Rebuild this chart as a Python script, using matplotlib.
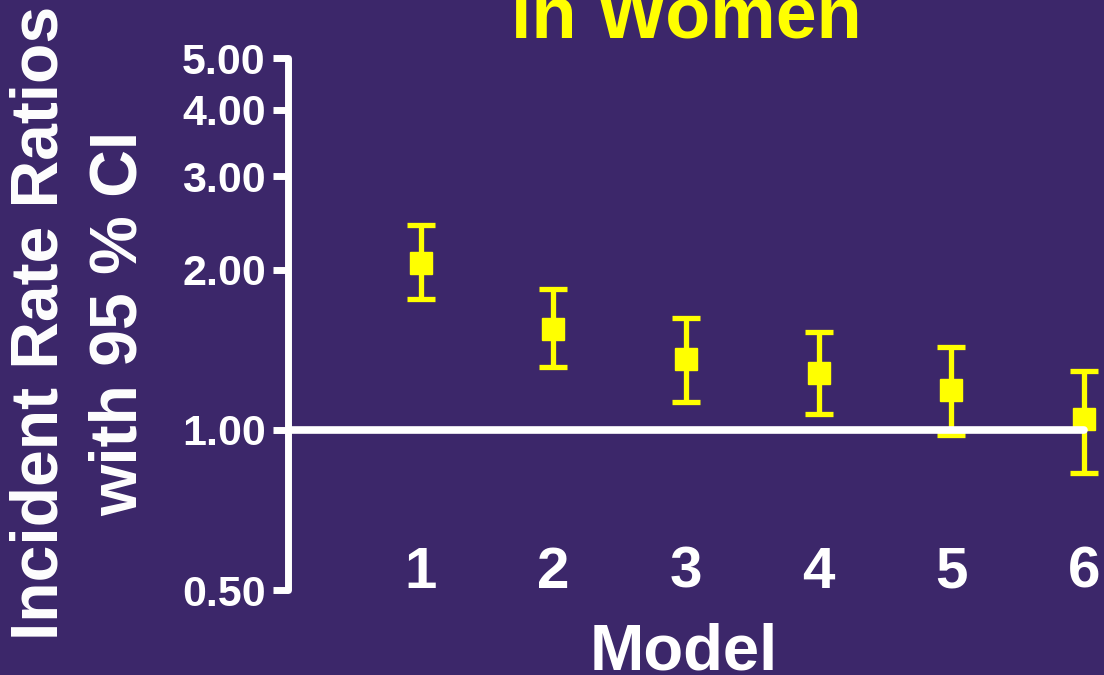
import matplotlib
matplotlib.use("Agg")
import matplotlib.pyplot as plt
from matplotlib.ticker import FixedLocator, NullLocator

plt.rcParams['font.family'] = ['Liberation Sans', 'DejaVu Sans']
plt.rcParams['font.weight'] = 'bold'

models = [1, 2, 3, 4, 5, 6]
model_labels = ["1", "2", "3", "4", "5", "6"]
irr = [2.06, 1.55, 1.36, 1.28, 1.19, 1.05]
ci_low = [1.76, 1.31, 1.13, 1.07, 0.98, 0.83]
ci_high = [2.43, 1.84, 1.62, 1.53, 1.43, 1.29]
yticks = [0.5, 1, 2, 3, 4, 5]
ytick_labels = ["0.50", "1.00", "2.00", "3.00", "4.00", "5.00"]

BG = '#3C276A'
YEL = '#FFFF00'
W = 1104
H = 675

fig = plt.figure(figsize=(W / 100, H / 100), dpi=100, facecolor=BG)
ax = fig.add_axes([288 / W, 85 / H, (1084 - 288) / W, 532 / H])
ax.set_facecolor(BG)
ax.set_yscale('log')
ax.set_ylim(0.5, 5)
ax.set_xlim(0, 6)

for s in ['top', 'right', 'bottom']:
    ax.spines[s].set_visible(False)
ax.spines['left'].set_color('white')
ax.spines['left'].set_linewidth(5)
ax.spines['left'].set_capstyle('round')

ax.yaxis.set_major_locator(FixedLocator(yticks))
ax.yaxis.set_minor_locator(NullLocator())
ax.set_yticklabels(ytick_labels)
ax.tick_params(axis='y', colors='white', width=5, length=11, pad=5,
               labelsize=31, direction='out')
for t in ax.get_yticklabels():
    t.set_fontweight('bold')
for tl in ax.yaxis.get_ticklines():
    tl.set_solid_capstyle('round')
ax.set_xticks([])

yerr = [[v - l for v, l in zip(irr, ci_low)], [h - v for v, h in zip(irr, ci_high)]]
eb = ax.errorbar(models, irr, yerr=yerr, fmt='s', color=YEL, ecolor=YEL,
                 markersize=16, elinewidth=3.8, capsize=10, capthick=3.8,
                 clip_on=False, zorder=3)
for art in eb[1]:
    art.set_clip_on(False)
for art in eb[2]:
    art.set_clip_on(False)
eb[0].set_clip_on(False)

ax.plot([0, 6], [1, 1], color='white', lw=5.5, solid_capstyle='round',
        clip_on=False, zorder=4)

xt = ax.get_xaxis_transform()
for m, lab in zip(models, model_labels):
    ax.text(m, 0.004, lab, transform=xt, ha='center', va='baseline',
            color='white', fontsize=42, fontweight='bold')

fig.text(686 / W, 1 - 38 / H, "in Women", ha='center', va='baseline',
         color=YEL, fontsize=53, fontweight='bold')
fig.text(684 / W, 5 / H, "Model", ha='center', va='baseline',
         color='white', fontsize=47, fontweight='bold')
fig.text(80 / W, 1 - 323 / H, "Incident Rate Ratios\nwith 95 % CI", ha='center',
         va='center', rotation=90, color='white', fontsize=47.5,
         fontweight='bold', linespacing=1.35, multialignment='center')

fig.savefig('out.png', dpi=100, facecolor=BG)
